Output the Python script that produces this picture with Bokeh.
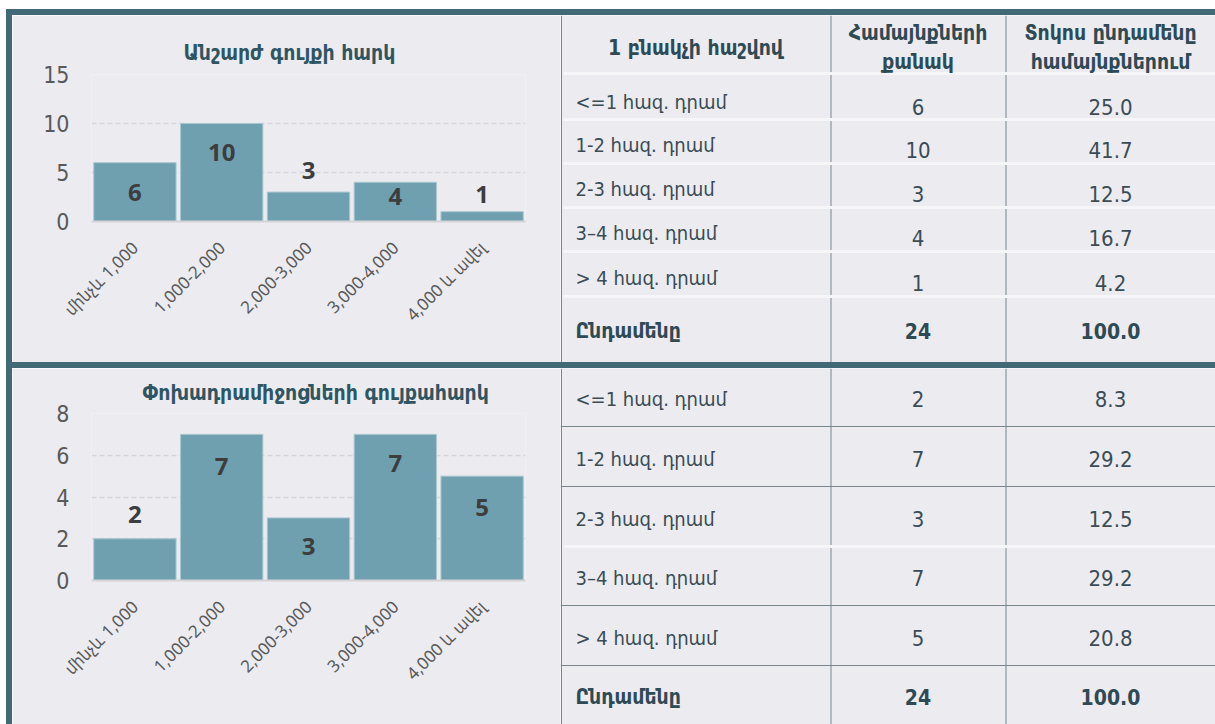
import math
from bokeh.plotting import figure
from bokeh.models import Range1d, FactorRange, ColumnDataSource, Spacer, Div
from bokeh.layouts import column, row
from bokeh.core.properties import value
from bokeh.embed import file_html
from bokeh.resources import INLINE

# ---------------- data ----------------
categories = ["մինչև 1,000", "1,000-2,000", "2,000-3,000", "3,000-4,000", "4,000 և ավել"]

property_title = "Անշարժ գույքի հարկ"
property_counts = [6, 10, 3, 4, 1]
property_ticks = [0, 5, 10, 15]

vehicle_title = "Փոխադրամիջոցների գույքահարկ"
vehicle_counts = [2, 7, 3, 7, 5]
vehicle_ticks = [0, 2, 4, 6, 8]

header_col1 = "1 բնակչի հաշվով"
header_col2 = ["Համայնքների", "քանակ"]
header_col3 = ["Տոկոս ընդամենը", "համայնքներում"]
row_labels = ["<=1 հազ. դրամ", "1-2 հազ. դրամ", "2-3 հազ. դրամ", "3–4 հազ. դրամ", "> 4 հազ. դրամ"]
total_label = "Ընդամենը"

property_pct = [25.0, 41.7, 12.5, 16.7, 4.2]
property_total_count = 24
property_total_pct = 100.0

vehicle_pct = [8.3, 29.2, 12.5, 29.2, 20.8]
vehicle_total_count = 24
vehicle_total_pct = 100.0

# ---------------- style ----------------
BG = "#ebebf0"
TEAL = "#416976"
BAR = "#6fa0b0"
BAR_EDGE = "#a9c6cf"
GRID = "#d5d5db"
TICK_TXT = "#595959"
VAL_TXT = "#3d3d3d"
TITLE_TXT = "#2f5563"
TBL_TXT = "#3a4c55"
TBL_HEAD = "#2e4a55"
TBL_LINE = "#7b8590"
GAP = "#f6f6f9"

NARROW = "Liberation Sans Narrow, DejaVu Sans Condensed, DejaVu Sans"
COND = "DejaVu Sans Condensed, DejaVu Sans"
LABEL_FONT = "Noto Sans, DejaVu Sans Condensed, DejaVu Sans"
VAL_FONT = "Open Sans"

property_label_dy = [30, 29, -22, 14, -17]
vehicle_label_dy = [-24, 32, 29, 29, 31]


def set_borders(p, l, r, t, b):
    p.min_border_left = l
    p.min_border_right = r
    p.min_border_top = t
    p.min_border_bottom = b


def bar_chart(title, counts, ticks, label_dy, fig_h, top, bottom, title_offset, title_standoff):
    p = figure(width=548, height=fig_h, x_range=FactorRange(factors=categories),
               y_range=Range1d(0, ticks[-1]), toolbar_location=None,
               output_backend="svg", background_fill_color=BG, border_fill_color=BG,
               outline_line_color=None, title=title)
    p.frame_align = False
    set_borders(p, 79, 35, top, bottom)
    src = ColumnDataSource(dict(cat=categories, count=counts,
                                lbl=[str(c) for c in counts], dy=label_dy))
    p.vbar(x="cat", top="count", width=0.948, source=src, fill_color=BAR,
           line_color=BAR_EDGE, line_width=1)
    p.text(x="cat", y="count", text="lbl", y_offset="dy", source=src,
           text_align="center", text_baseline="middle",
           text_font=value(VAL_FONT), text_font_size="24px",
           text_font_style="bold", text_color=VAL_TXT)
    p.yaxis.ticker = ticks
    p.yaxis.axis_line_color = None
    p.yaxis.major_tick_line_color = None
    p.yaxis.major_tick_out = 0
    p.yaxis.major_tick_in = 0
    p.yaxis.minor_tick_line_color = None
    p.yaxis.major_label_standoff = 22
    p.yaxis.major_label_text_font = NARROW
    p.yaxis.major_label_text_font_size = "23px"
    p.yaxis.major_label_text_color = TICK_TXT
    p.xaxis.axis_line_color = "#d3d3d8"
    p.xaxis.axis_line_width = 2
    p.xaxis.major_tick_line_color = None
    p.xaxis.major_tick_out = 0
    p.xaxis.major_label_orientation = math.pi / 4
    p.xaxis.major_label_standoff = 23
    p.xaxis.major_label_text_font = LABEL_FONT
    p.xaxis.major_label_text_font_size = "17px"
    p.xaxis.major_label_text_color = TICK_TXT
    p.xgrid.visible = False
    p.ygrid.grid_line_color = GRID
    p.ygrid.grid_line_width = 1.5
    p.ygrid.grid_line_dash = "5 3"
    p.title.align = "left"
    p.title.offset = title_offset
    p.title.standoff = title_standoff
    p.title.text_font = COND
    p.title.text_font_size = "21px"
    p.title.text_font_style = "bold"
    p.title.text_color = TITLE_TXT
    return p


TBL_W = 655


def base_table(h):
    t = figure(width=TBL_W, height=h, x_range=Range1d(0, TBL_W), y_range=Range1d(h, 0),
               toolbar_location=None, output_backend="svg", x_axis_location=None,
               y_axis_location=None, background_fill_color=BG, border_fill_color=BG,
               outline_line_color=None)
    t.frame_align = False
    set_borders(t, 0, 0, 0, 0)
    t.grid.visible = False
    return t


COL_X = [1, 270.5, 445.5]
LABEL_X = 15
NUM_X = [357.5, 550]


def table_body(t, h, row_y, total_y, counts, pcts, tot_c, tot_p, gray_y, gap_y, label_shift):
    t.segment(x0=COL_X, y0=[0] * 3, x1=COL_X, y1=[h] * 3, line_color=TBL_LINE, line_width=1)
    if gray_y:
        t.segment(x0=[0] * len(gray_y), y0=gray_y, x1=[TBL_W] * len(gray_y), y1=gray_y,
                  line_color=TBL_LINE, line_width=1)
    if gap_y:
        t.segment(x0=[3] * len(gap_y), y0=gap_y, x1=[TBL_W] * len(gap_y), y1=gap_y,
                  line_color=GAP, line_width=3)
    ly = [y + label_shift for y in row_y]
    t.text(x=[LABEL_X] * len(row_labels), y=ly, text=row_labels, text_align="left",
           text_baseline="middle", text_font=value(NARROW), text_font_size="20px",
           text_color=TBL_TXT)
    t.text(x=[NUM_X[0]] * len(counts), y=row_y, text=[str(c) for c in counts],
           text_align="center", text_baseline="middle", text_font=value(NARROW),
           text_font_size="22px", text_color=TBL_TXT)
    t.text(x=[NUM_X[1]] * len(pcts), y=row_y, text=[f"{v:.1f}" for v in pcts],
           text_align="center", text_baseline="middle", text_font=value(NARROW),
           text_font_size="22px", text_color=TBL_TXT)
    t.text(x=[LABEL_X, NUM_X[0], NUM_X[1]], y=[total_y] * 3,
           text=[total_label, str(tot_c), f"{tot_p:.1f}"],
           text_align=["left", "center", "center"], text_baseline="middle",
           text_font=value(NARROW), text_font_size="21px", text_font_style="bold",
           text_color=TBL_HEAD)


# top table (with header)
t1 = base_table(347)
table_body(t1, 347, [91, 134, 178, 222, 267], 315, property_counts, property_pct,
           property_total_count, property_total_pct, [], [58, 104, 148, 192, 236, 281], -5)
t1.text(x=[135, NUM_X[0], NUM_X[0], NUM_X[1], NUM_X[1]], y=[32, 17, 46, 17, 46],
        text=[header_col1, header_col2[0], header_col2[1], header_col3[0], header_col3[1]],
        text_align="center", text_baseline="middle", text_font=value(COND),
        text_font_size="21px", text_font_style="bold", text_color=TBL_HEAD)

# bottom table
t2 = base_table(356)
table_body(t2, 356, [30.3, 90.3, 150.3, 209.7, 269.7], 328.7, vehicle_counts, vehicle_pct,
           vehicle_total_count, vehicle_total_pct, [58, 118, 237, 297], [178], 0)

c1 = bar_chart(property_title, property_counts, property_ticks, property_label_dy,
               347, 59, 141, 92, 20)
c2 = bar_chart(vehicle_title, vehicle_counts, vehicle_ticks, vehicle_label_dy,
               356, 45, 144, 51, 17)


def strip(w, h):
    return Div(text="", width=w, height=h,
               styles={"background-color": TEAL, "margin": "0", "padding": "0"})


top_strip = strip(1209, 6)
left_strip = strip(6, 709)
mid_strip = strip(1203, 6)

layout = column(Spacer(width=1215, height=9),
                row(Spacer(width=6, height=715),
                    column(top_strip,
                           row(left_strip,
                               column(row(c1, t1), mid_strip, row(c2, t2))))))

open("out.html", "w").write(file_html(layout, INLINE))
